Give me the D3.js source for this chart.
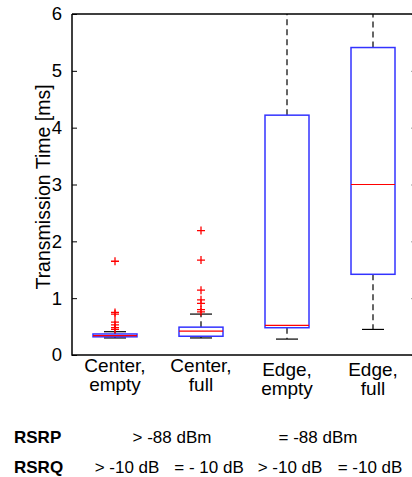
<!DOCTYPE html>
<html>
<head>
<meta charset="utf-8">
<script src="https://cdn.jsdelivr.net/npm/d3@7"></script>
<style>
  body { margin: 0; background: #fff; }
  svg { display: block; font-family: "Liberation Sans", Arial, sans-serif; }
</style>
</head>
<body>
<div id="chart"></div>
<script>
// Transmission time boxplots (values in ms)
const categories = ['Center,\nempty', 'Center,\nfull', 'Edge,\nempty', 'Edge,\nfull']
const whiskerLow = [0.30, 0.30, 0.28, 0.45]
const q1 = [0.32, 0.33, 0.48, 1.42]
const median = [0.34, 0.42, 0.52, 3.0]
const q3 = [0.37, 0.49, 4.22, 5.41]
const whiskerHigh = [0.41, 0.72, 6.6, 6.6]
const outliers = [
  [1.65, 0.75, 0.72, 0.58, 0.53, 0.48, 0.45],
  [2.19, 1.67, 1.14, 0.97, 0.91, 0.80, 0.76],
  [],
  []
]
const yTicks = [0, 1, 2, 3, 4, 5, 6]

// table under the chart
const rsrpLabels = ['> -88 dBm', '= -88 dBm']
const rsrqLabels = ['> -10 dB', '= - 10 dB', '> -10 dB', '= -10 dB']

var width = 412
var height = 477
var margin = { top: 14, right: -4, bottom: 122, left: 72 }

var svg = d3.select('#chart')
  .append('svg')
  .attr('width', width)
  .attr('height', height)

var x = d3.scalePoint()
  .domain(d3.range(categories.length))
  .range([margin.left, width - margin.right])
  .padding(0.5)

var y = d3.scaleLinear()
  .domain([0, 6])
  .range([height - margin.bottom, margin.top])

var boxW = 44
var capW = 22

svg.append('clipPath')
  .attr('id', 'plotclip')
  .append('rect')
  .attr('x', margin.left)
  .attr('y', margin.top)
  .attr('width', width - margin.right - margin.left)
  .attr('height', y(0) - margin.top)

var plot = svg.append('g').attr('clip-path', 'url(#plotclip)')

var groups = plot.selectAll('g.box')
  .data(categories.map((c, i) => i))
  .join('g')
  .attr('class', 'box')

// whiskers (dashed)
groups.append('line')
  .attr('x1', i => x(i)).attr('x2', i => x(i))
  .attr('y1', i => y(q3[i])).attr('y2', i => y(whiskerHigh[i]))
  .attr('stroke', '#000').attr('stroke-width', 1.2)
  .attr('stroke-dasharray', '6,4')
groups.append('line')
  .attr('x1', i => x(i)).attr('x2', i => x(i))
  .attr('y1', i => y(q1[i])).attr('y2', i => y(whiskerLow[i]))
  .attr('stroke', '#000').attr('stroke-width', 1.2)
  .attr('stroke-dasharray', '6,4')

// caps
groups.append('line')
  .attr('x1', i => x(i) - capW / 2).attr('x2', i => x(i) + capW / 2)
  .attr('y1', i => y(whiskerHigh[i])).attr('y2', i => y(whiskerHigh[i]))
  .attr('stroke', '#000').attr('stroke-width', 1.2)
groups.append('line')
  .attr('x1', i => x(i) - capW / 2).attr('x2', i => x(i) + capW / 2)
  .attr('y1', i => y(whiskerLow[i])).attr('y2', i => y(whiskerLow[i]))
  .attr('stroke', '#000').attr('stroke-width', 1.2)

// boxes
groups.append('rect')
  .attr('x', i => x(i) - boxW / 2)
  .attr('width', boxW)
  .attr('y', i => y(q3[i]))
  .attr('height', i => y(q1[i]) - y(q3[i]))
  .attr('fill', 'none')
  .attr('stroke', '#3333ff')
  .attr('stroke-width', 1.5)

// medians
groups.append('line')
  .attr('x1', i => x(i) - boxW / 2).attr('x2', i => x(i) + boxW / 2)
  .attr('y1', i => y(median[i])).attr('y2', i => y(median[i]))
  .attr('stroke', '#ff0000').attr('stroke-width', 1.2)

// outliers as red plus signs
groups.selectAll('path.out')
  .data(i => outliers[i].map(v => ({ i: i, v: v })))
  .join('path')
  .attr('class', 'out')
  .attr('d', d => {
    var cx = x(d.i), cy = y(d.v), r = 4
    return `M${cx - r},${cy}H${cx + r}M${cx},${cy - r}V${cy + r}`
  })
  .attr('stroke', '#ff0000')
  .attr('stroke-width', 1.3)

// axes (MATLAB style, ticks pointing in)
var yAxis = svg.append('g')
  .attr('transform', `translate(${margin.left},0)`)
  .call(d3.axisLeft(y).tickValues(yTicks).tickSize(-5).tickPadding(10).tickFormat(d3.format('d')))
yAxis.select('.domain').remove()
yAxis.selectAll('line').attr('stroke', '#000')
yAxis.selectAll('text')
  .attr('font-size', 18.5)
  .attr('fill', '#000')
  .attr('font-family', '"Liberation Sans", Arial, sans-serif')

var rAxis = svg.append('g')
  .attr('transform', `translate(${width - margin.right},0)`)
  .call(d3.axisRight(y).tickValues(yTicks).tickSize(-5).tickFormat(''))
rAxis.select('.domain').remove()
rAxis.selectAll('line').attr('stroke', '#999')

// frame lines: left, bottom, top
svg.append('path')
  .attr('d', `M${margin.left},${margin.top}V${y(0)}H${width + 5}M${margin.left},${margin.top}H${width + 5}`)
  .attr('fill', 'none')
  .attr('stroke', '#000')
  .attr('stroke-width', 1.5)

// y label
svg.append('text')
  .text('Transmission Time [ms]')
  .attr('transform', `translate(50,${(80 + 294) / 2}) rotate(-90)`)
  .attr('text-anchor', 'middle')
  .attr('font-size', 19.5)

// x category labels
categories.forEach((c, i) => {
  var lines = c.split('\n')
  var shift = i >= 2 ? 4 : 0
  lines.forEach((l, k) => {
    svg.append('text')
      .text(l)
      .attr('x', x(i))
      .attr('y', 372 + shift + k * 19)
      .attr('text-anchor', 'middle')
      .attr('font-size', 19)
  })
})

// table below (label centres nudged to where they sit in the figure)
var rsrpCx = [172, 318]
var rsrqCx = [127, 209, 290, 370]

svg.append('text').text('RSRP')
  .attr('x', 14).attr('y', 443)
  .attr('font-weight', 'bold').attr('font-size', 17)
svg.append('text').text('RSRQ')
  .attr('x', 14).attr('y', 473)
  .attr('font-weight', 'bold').attr('font-size', 17)

rsrpLabels.forEach((l, k) => {
  svg.append('text').text(l)
    .attr('x', rsrpCx[k])
    .attr('y', 443)
    .attr('text-anchor', 'middle')
    .attr('font-size', 17)
})
rsrqLabels.forEach((l, k) => {
  svg.append('text').text(l)
    .attr('x', rsrqCx[k])
    .attr('y', 473)
    .attr('text-anchor', 'middle')
    .attr('font-size', 17)
})
</script>
</body>
</html>
